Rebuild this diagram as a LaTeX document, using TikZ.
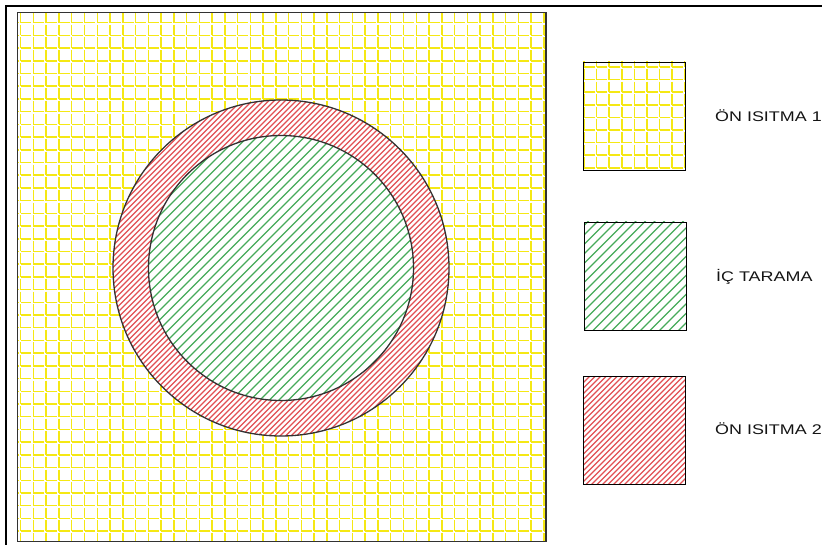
\documentclass[tikz,border=0pt]{standalone}
\usepackage{fontspec}
\setmainfont{Liberation Sans}
\definecolor{gridyellow}{RGB}{245,232,20}
\definecolor{hatchred}{RGB}{226,80,84}
\definecolor{hatchgreen}{RGB}{70,170,90}
\definecolor{edgegray}{RGB}{50,50,50}
\definecolor{txt}{RGB}{20,20,20}
\tikzset{
  gridvA/.style={gridyellow, line width=1.5pt, dash pattern=on 10.71pt off 2pt, dash phase=10.71pt},
  gridhA/.style={gridyellow, line width=1.5pt, dash pattern=on 10.76pt off 2pt},
  gridvB/.style={gridyellow, line width=1.5pt, dash pattern=on 10.6pt off 2pt, dash phase=10.6pt},
  gridhB/.style={gridyellow, line width=1.5pt, dash pattern=on 10.6pt off 2pt},
  redhatch/.style={hatchred, line width=1.1pt},
  greenhatch/.style={hatchgreen, line width=1.1pt},
  outline/.style={draw=edgegray, line width=1.3pt},
  legbox/.style={draw=black, line width=1.3pt},
  lbl/.style={anchor=west, inner sep=0pt, text=txt, font=\fontsize{14}{17}\selectfont}
}
\begin{document}
\begin{tikzpicture}[x=1pt,y=-1pt]
\useasboundingbox (0,0) rectangle (822,545);
\fill[white] (0,0) rectangle (822,545);
% outer frame
\draw[black, line width=2pt] (5.5,560) -- (5.5,6.5) -- (840,6.5);
% main square grid
\begin{scope}
  \clip (17.5,12.5) rectangle (546,541.5);
  \foreach \k in {-1,...,41}
    \draw[gridvA] ({20.7+\k*12.76},{22.7-2*12.71}) -- ({20.7+\k*12.76},560);
  \foreach \j in {-1,...,41}
    \draw[gridhA] ({20.7-2*12.76},{22.7+\j*12.71}) -- (560,{22.7+\j*12.71});
\end{scope}
% circles
\coordinate (c) at (281,268);
\fill[white] (c) circle (168);
\begin{scope}[even odd rule]
  \clip (c) circle (168) (c) circle (132.5);
  \foreach \n in {0,...,125}
    \draw[redhatch] ({210+\n*5.5},0) -- ({210+\n*5.5-600},600);
\end{scope}
\begin{scope}
  \clip (c) circle (132.5);
  \foreach \n in {0,...,58}
    \draw[greenhatch] ({280+\n*9.5},0) -- ({280+\n*9.5-600},600);
\end{scope}
\draw[outline] (c) circle (168);
\draw[outline] (c) circle (132.5);
\draw[outline] (17.5,12.5) rectangle (546,541.5);
% legend 1
\begin{scope}
  \clip (583,62) rectangle (685,170);
  \foreach \k in {0,...,8}
    \draw[gridvB] ({584+\k*12.6},{67-12.6}) -- ({584+\k*12.6},180);
  \foreach \j in {0,...,8}
    \draw[gridhB] (584,{67+\j*12.6}) -- (700,{67+\j*12.6});
\end{scope}
\node[legbox, minimum width=102pt, minimum height=108pt, inner sep=0pt, anchor=north west] (box1) at (583,62) {};
% legend 2
\begin{scope}
  \clip (584,222) rectangle (686,330);
  \foreach \n in {0,...,24}
    \draw[greenhatch] ({800+\n*9.5},0) -- ({800+\n*9.5-600},600);
\end{scope}
\node[legbox, minimum width=102pt, minimum height=108pt, inner sep=0pt, anchor=north west] (box2) at (584,222) {};
% legend 3
\begin{scope}
  \clip (583,376) rectangle (685,484);
  \foreach \n in {0,...,40}
    \draw[redhatch] ({955+\n*5.5},0) -- ({955+\n*5.5-800},800);
\end{scope}
\node[legbox, minimum width=102pt, minimum height=108pt, inner sep=0pt, anchor=north west] (box3) at (583,376) {};
% labels
\node[lbl] (t1) at (715,116) {\scalebox{1.28}[1]{ÖN ISITMA 1}};
\node[lbl] (t2) at (716,277) {\scalebox{1.28}[1]{İÇ TARAMA}};
\node[lbl] (t3) at (715,429) {\scalebox{1.28}[1]{ÖN ISITMA 2}};
\end{tikzpicture}
\end{document}
